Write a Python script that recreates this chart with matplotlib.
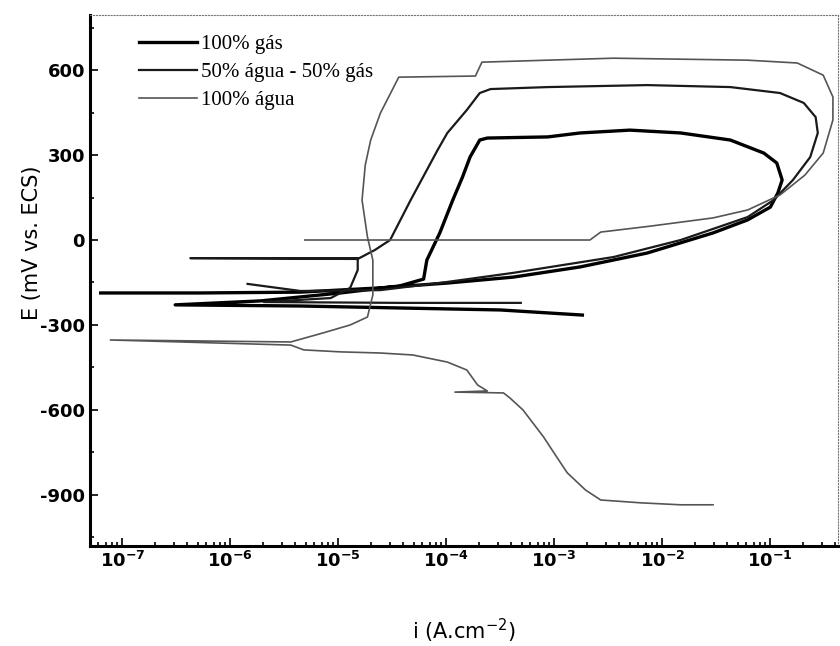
import numpy as np
import matplotlib.pyplot as plt
from matplotlib.ticker import FixedLocator, LogLocator, NullFormatter

# log10 of current density (A/cm2) and potential (mV vs ECS)
gas_logi = [-2.74, -3.50, -4.43, -5.35, -6.51, -5.72, -4.98, -4.43, -4.21, -4.18,
            -4.06, -3.94, -3.85, -3.78, -3.69, -3.62, -3.06, -2.76, -2.30, -1.83,
            -1.37, -1.06, -0.94, -0.89, -0.93, -1.00, -1.21, -1.53, -2.14, -2.76,
            -3.38, -3.99, -4.61, -5.35, -6.28, -7.20]
gas_E = [-265, -247, -240, -233, -229, -215, -187, -162, -138, -71,
         25, 141, 222, 293, 353, 360, 364, 378, 388, 378,
         353, 307, 272, 212, 166, 116, 71, 25, -46, -95,
         -131, -152, -169, -184, -187, -187]

mix_logi = [-3.31, -4.43, -5.69, -5.07, -4.89, -4.82, -4.82, -6.37, -4.82, -4.66,
            -4.52, -4.33, -4.08, -3.99, -3.81, -3.69, -3.59, -3.06, -2.14, -1.37,
            -0.91, -0.69, -0.58, -0.56, -0.63, -0.79, -0.97, -1.21, -1.83, -2.45,
            -3.38, -3.99, -4.61, -5.35, -5.84]
mix_E = [-222, -222, -219, -205, -169, -106, -64, -64, -67, -35,
         0, 141, 318, 378, 459, 519, 533, 540, 547, 540,
         519, 484, 434, 378, 293, 212, 141, 81, 0, -60,
         -116, -148, -177, -180, -155]

agua_logi = [-1.53, -1.83, -2.20, -2.57, -2.71, -2.88, -2.99, -3.10, -3.29, -3.41,
             -3.47, -3.92, -3.62, -3.71, -3.81, -3.99, -4.31, -4.61, -4.98, -5.32,
             -5.44, -7.11, -5.44, -5.14, -4.89, -4.73, -4.68, -4.68, -4.73, -4.78,
             -4.75, -4.70, -4.61, -4.44, -3.73, -3.67, -2.45, -1.21, -0.75, -0.51,
             -0.42, -0.42, -0.51, -0.68, -0.91, -1.21, -1.53, -2.11, -2.57, -2.67,
             -5.31]
agua_E = [-935, -935, -928, -918, -883, -822, -759, -695, -600, -558,
          -540, -537, -533, -512, -459, -431, -406, -399, -395, -388,
          -371, -353, -360, -328, -300, -272, -194, -71, 11, 141,
          265, 353, 448, 575, 579, 628, 642, 635, 625, 582,
          505, 424, 307, 229, 159, 106, 78, 49, 28, 0,
          0]

labels = ['100% gás', '50% água - 50% gás', '100% água']
yticks = [-900, -600, -300, 0, 300, 600]
xtick_exp = [-7, -6, -5, -4, -3, -2, -1]

plt.rcParams['axes.unicode_minus'] = False

fig = plt.figure(figsize=(8.4, 6.46), dpi=100)
ax = fig.add_axes([0.107, 0.155, 0.891, 0.822])

ax.plot(10.0 ** np.array(gas_logi), gas_E, color='black', lw=2.4, label=labels[0])
ax.plot(10.0 ** np.array(mix_logi), mix_E, color='#1a1a1a', lw=1.6, label=labels[1])
ax.plot(10.0 ** np.array(agua_logi), agua_E, color='#555555', lw=1.2, label=labels[2])

ax.set_xscale('log')
ax.set_xlim(10 ** -7.30, 10 ** -0.37)
ax.set_ylim(-1080, 795)

ax.xaxis.set_major_locator(FixedLocator([10.0 ** e for e in xtick_exp]))
ax.set_xticklabels(['$\\mathbf{10^{%d}}$' % e for e in xtick_exp])
ax.xaxis.set_minor_locator(LogLocator(base=10, subs=np.arange(2, 10), numticks=20))
ax.xaxis.set_minor_formatter(NullFormatter())
ax.set_yticks(yticks)
ax.set_yticks([-1050, -750, -450, -150, 150, 450, 750], minor=True)

ax.tick_params(which='both', direction='in', labelsize=13, width=1.2)
ax.tick_params(which='major', length=6)
ax.tick_params(which='minor', length=3)
for t in ax.get_yticklabels():
    t.set_fontweight('bold')

for s in ['left', 'bottom']:
    ax.spines[s].set_linewidth(2.2)
for s in ['top', 'right']:
    ax.spines[s].set_linewidth(0.8)
    ax.spines[s].set_linestyle(':')
    ax.spines[s].set_color('#777777')

ax.set_xlabel('i (A.cm$^{-2}$)', fontsize=15)
ax.xaxis.set_label_coords(0.5, -0.133)
ax.set_ylabel('E (mV vs. ECS)', fontsize=15)
ax.yaxis.set_label_coords(-0.064, 0.57)

leg = ax.legend(loc='upper left', bbox_to_anchor=(0.046, 0.99), frameon=False,
                prop={'family': 'Liberation Serif', 'size': 15},
                handlelength=2.8, handletextpad=0.2, labelspacing=0.4,
                borderaxespad=0.3)

fig.savefig('out.png', dpi=100)
